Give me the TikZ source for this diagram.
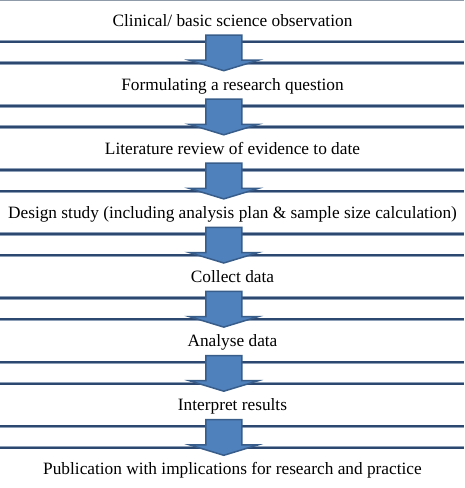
\documentclass[tikz,border=0pt]{standalone}
\usepackage{fontspec}
\setmainfont{Liberation Serif}
\definecolor{rulenavy}{HTML}{2C4770}
\definecolor{ruleedge}{HTML}{8EA0B8}
\definecolor{arrowfill}{HTML}{4F81BD}
\definecolor{arrowline}{HTML}{385D8A}
\definecolor{framegray}{HTML}{8F9BA8}
\tikzset{
  steptext/.style={anchor=base,inner sep=0pt,font=\fontsize{17.3}{20}\selectfont},
  ruleback/.style={draw=ruleedge,line width=3.4pt},
  rulecore/.style={draw=rulenavy,line width=2pt},
  blockarrow/.style={fill=arrowfill,draw=arrowline,line width=1.5pt,line join=miter},
}
\begin{document}
\begin{tikzpicture}[x=1pt,y=-1pt]

  \useasboundingbox (0,0) rectangle (464,488);

  \def\rowstep{64.1}
  \def\firstbase{26}
  \def\pairtop{41.7}
  \def\pairgap{21.3}

  % --- thin frame edge at the top ---
  \draw[framegray,line width=1pt] (0,0.5) -- (464,0.5);

  % --- double rules between the steps ---
  \foreach \i in {0,...,6} {
    \pgfmathsetmacro{\ya}{\pairtop + \i*\rowstep}
    \pgfmathsetmacro{\yb}{\ya + \pairgap}
    \draw[ruleback] (0,\ya) -- (464,\ya);
    \draw[ruleback] (0,\yb) -- (464,\yb);
    \draw[rulecore] (0,\ya) -- (464,\ya);
    \draw[rulecore] (0,\yb) -- (464,\yb);
    \coordinate (gap\i) at (223.8,\ya);
  }

  % --- step texts ---
  \foreach \i/\txt in {%
    0/{Clinical/ basic science observation},
    1/{Formulating a research question},
    2/{Literature review of evidence to date},
    3/{Design study (including analysis plan \& sample size calculation)},
    4/{Collect data},
    5/{Analyse data},
    6/{Interpret results},
    7/{Publication with implications for research and practice}
  } {
    \pgfmathsetmacro{\yt}{\firstbase + \i*\rowstep}
    \node[steptext] (step\i) at (232.5,\yt) {\txt};
  }

  % --- block arrows from one step to the next ---
  \foreach \i in {0,...,6} {
    \begin{scope}[shift={(gap\i)}]
      \draw[blockarrow] (-18,-6.7) -- (18,-6.7) -- (18,18.5) -- (34.5,18.5)
        -- (0,29) -- (-34.5,18.5) -- (-18,18.5) -- cycle;
    \end{scope}
  }

\end{tikzpicture}
\end{document}
